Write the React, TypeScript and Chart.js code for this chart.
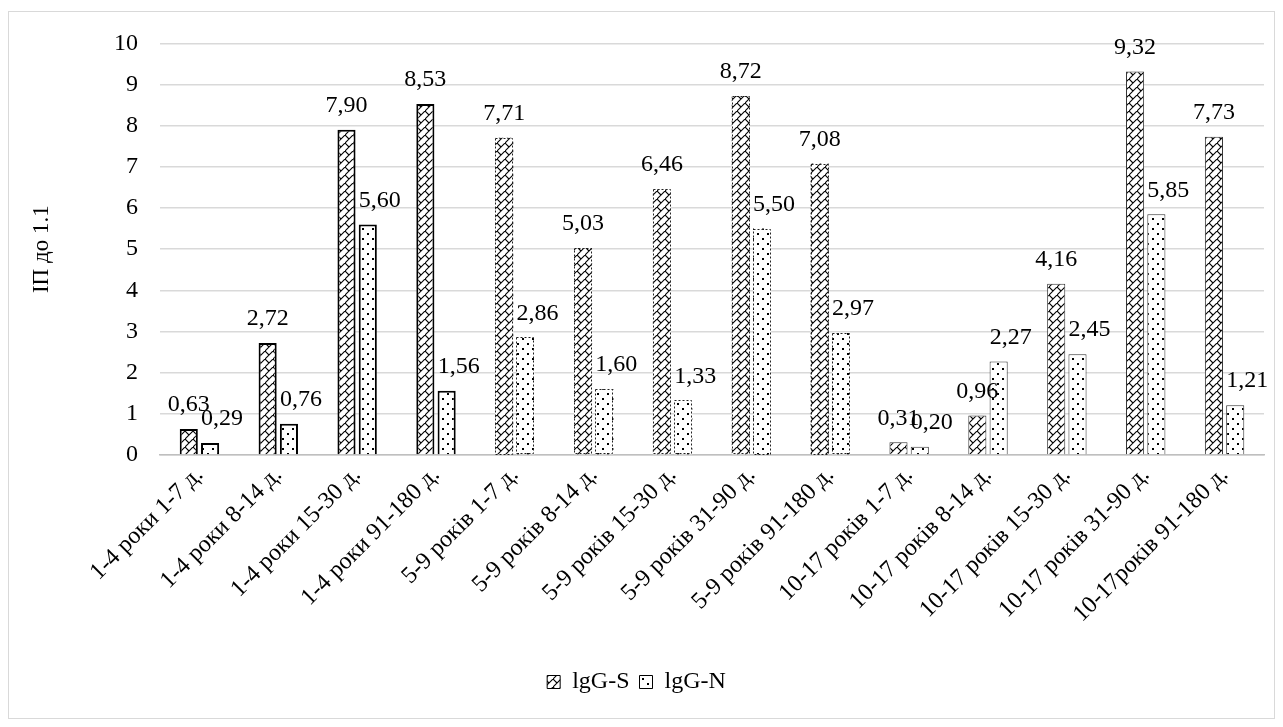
import React, { useEffect, useRef } from "react";
import { Chart, registerables } from "chart.js";

Chart.register(...registerables);

const categories = [
  "1-4 роки 1-7 д.",
  "1-4 роки 8-14 д.",
  "1-4 роки 15-30 д.",
  "1-4 роки 91-180 д.",
  "5-9 років 1-7 д.",
  "5-9 років 8-14 д.",
  "5-9 років 15-30 д.",
  "5-9 років 31-90 д.",
  "5-9 років 91-180 д.",
  "10-17 років 1-7 д.",
  "10-17 років 8-14 д.",
  "10-17 років 15-30 д.",
  "10-17 років 31-90 д.",
  "10-17років 91-180 д.",
];

const igGS = [0.63, 2.72, 7.9, 8.53, 7.71, 5.03, 6.46, 8.72, 7.08, 0.31, 0.96, 4.16, 9.32, 7.73];
const igGN = [0.29, 0.76, 5.6, 1.56, 2.86, 1.6, 1.33, 5.5, 2.97, 0.2, 2.27, 2.45, 5.85, 1.21];

const seriesNames = ["lgG-S", "lgG-N"];
const yTicks = [0, 1, 2, 3, 4, 5, 6, 7, 8, 9, 10];
const yTitle = "ІП до 1.1";

const FONT = "'Liberation Serif', 'Times New Roman', serif";

function makeHatch(): CanvasPattern | string {
  const c = document.createElement("canvas");
  c.width = 8;
  c.height = 8;
  const g = c.getContext("2d");
  if (!g) return "#fff";
  g.fillStyle = "#fff";
  g.fillRect(0, 0, 8, 8);
  g.strokeStyle = "#000";
  g.lineWidth = 1.1;
  g.beginPath();
  g.moveTo(-1, 9);
  g.lineTo(9, -1);
  g.moveTo(0, 0);
  g.lineTo(4, 4);
  g.stroke();
  const p = g.createPattern(c, "repeat");
  return p || "#fff";
}

function makeDots(): CanvasPattern | string {
  const c = document.createElement("canvas");
  c.width = 10;
  c.height = 10;
  const g = c.getContext("2d");
  if (!g) return "#fff";
  g.fillStyle = "#fff";
  g.fillRect(0, 0, 10, 10);
  g.fillStyle = "#000";
  g.fillRect(3, 1, 2, 2);
  g.fillRect(8, 6, 2, 2);
  const p = g.createPattern(c, "repeat");
  return p || "#fff";
}

const groupOf = (i: number) => {
  const l = categories[i];
  if (l.startsWith("1-4")) return "a";
  if (l.startsWith("5-9")) return "b";
  return "c";
};

const dashedBorders = {
  id: "dashedBorders",
  afterDatasetsDraw(chart: any) {
    const ctx = chart.ctx;
    ctx.save();
    chart.data.datasets.forEach((_d: any, di: number) => {
      const meta = chart.getDatasetMeta(di);
      meta.data.forEach((el: any, i: number) => {
        if (groupOf(i) !== "b") return;
        const w = el.width;
        const l = el.x - w / 2;
        const top = el.y;
        const bottom = el.base;
        ctx.strokeStyle = "#222";
        ctx.lineWidth = 1;
        ctx.setLineDash([2, 2]);
        ctx.strokeRect(Math.round(l) + 0.5, Math.round(top) + 0.5, Math.round(w) - 1, Math.round(bottom - top) - 1);
      });
    });
    ctx.restore();
  },
};

const valueLabels = {
  id: "valueLabels",
  afterDatasetsDraw(chart: any) {
    const ctx = chart.ctx;
    ctx.save();
    ctx.font = `24px ${FONT}`;
    ctx.fillStyle = "#000";
    ctx.textAlign = "center";
    ctx.textBaseline = "middle";
    chart.data.datasets.forEach((ds: any, di: number) => {
      const meta = chart.getDatasetMeta(di);
      const dx = di === 0 ? 0 : 12;
      meta.data.forEach((el: any, i: number) => {
        const v = ds.data[i] as number;
        ctx.fillText(v.toFixed(2).replace(".", ","), el.x + dx, el.y - 24);
      });
    });
    ctx.restore();
  },
};

export default function App() {
  const ref = useRef<HTMLCanvasElement>(null);
  useEffect(() => {
    if (!ref.current) return;
    const hatch = makeHatch();
    const dots = makeDots();
    const bw = (c: any) => {
      const g = groupOf(c.dataIndex);
      return g === "a" ? 2 : g === "b" ? 0 : 1;
    };
    const bc = (c: any) => (groupOf(c.dataIndex) === "a" ? "#000" : "#333");
    const chart = new Chart(ref.current, {
      type: "bar",
      data: {
        labels: categories,
        datasets: [
          {
            label: seriesNames[0],
            data: igGS,
            backgroundColor: hatch as any,
            borderColor: bc as any,
            borderWidth: bw as any,
            categoryPercentage: 0.54,
            barPercentage: 0.85,
          },
          {
            label: seriesNames[1],
            data: igGN,
            backgroundColor: dots as any,
            borderColor: bc as any,
            borderWidth: bw as any,
            categoryPercentage: 0.54,
            barPercentage: 0.85,
          },
        ],
      },
      options: {
        animation: false,
        responsive: false,
        maintainAspectRatio: false,
        devicePixelRatio: 1,
        layout: { padding: { top: 20, right: 10, bottom: 14, left: 0 } },
        plugins: {
          tooltip: { enabled: false },
          legend: {
            position: "bottom",
            labels: {
              font: { family: FONT, size: 24 },
              color: "#000",
              boxWidth: 13,
              boxHeight: 13,
              padding: 10,
              generateLabels: () =>
                seriesNames.map((n, i) => ({
                  text: n,
                  fillStyle: (i === 0 ? hatch : dots) as any,
                  strokeStyle: "#000",
                  lineWidth: 1,
                  datasetIndex: i,
                  hidden: false,
                  fontColor: "#000",
                })),
            },
          },
        },
        scales: {
          x: {
            grid: { display: false, drawTicks: false },
            border: { display: true, color: "#bfbfbf", width: 1.5 },
            ticks: {
              font: { family: FONT, size: 24 },
              color: "#000",
              minRotation: 45,
              maxRotation: 45,
              autoSkip: false,
              padding: 6,
            },
            afterFit: (s: any) => {
              s.height = 205;
            },
          },
          y: {
            min: 0,
            max: 10,
            afterBuildTicks: (s: any) => {
              s.ticks = yTicks.map((v) => ({ value: v }));
            },
            grid: { color: "#d9d9d9", lineWidth: 1.5, drawTicks: false },
            border: { display: false },
            ticks: {
              font: { family: FONT, size: 24 },
              color: "#000",
              padding: 22,
            },
            title: {
              display: true,
              text: yTitle,
              font: { family: FONT, size: 23 },
              color: "#000",
              padding: { top: 19, bottom: 0 },
            },
            afterFit: (s: any) => {
              s.width = 151;
            },
          },
        },
      },
      plugins: [dashedBorders, valueLabels],
    });
    return () => chart.destroy();
  }, []);

  return (
    <div
      style={{
        position: "absolute",
        left: 8,
        top: 11,
        width: 1265,
        height: 706,
        border: "1px solid #d9d9d9",
        background: "#fff",
      }}
    >
      <canvas
        ref={ref}
        width={1265}
        height={711}
        style={{ display: "block", position: "absolute", left: 0, top: -5 }}
      />
    </div>
  );
}
